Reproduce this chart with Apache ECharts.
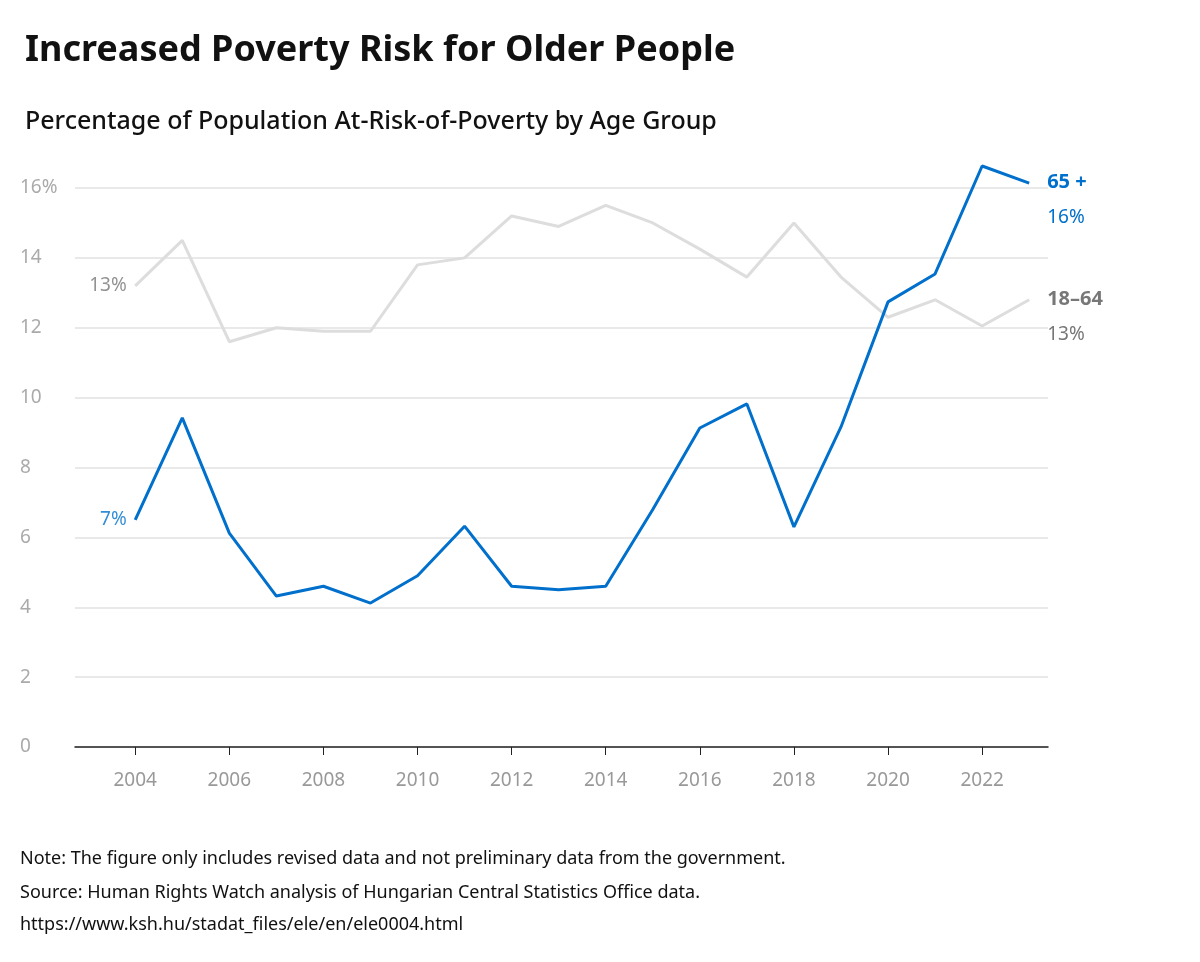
<!DOCTYPE html><html><head><meta charset="utf-8"><script src="https://cdn.jsdelivr.net/npm/echarts@6/dist/echarts.min.js"></script>
<style>body{margin:0}#c{width:1200px;height:962px}</style></head><body><div id="c"></div><script>
const years=[2004,2005,2006,2007,2008,2009,2010,2011,2012,2013,2014,2015,2016,2017,2018,2019,2020,2021,2022,2023];
const older=[6.5,9.42,6.12,4.32,4.6,4.12,4.9,6.32,4.6,4.5,4.6,6.8,9.13,9.82,6.3,9.16,12.74,13.54,16.63,16.14];
const working=[13.2,14.5,11.6,12.0,11.9,11.9,13.8,14.0,15.2,14.9,15.5,15.0,14.25,13.45,15.0,13.45,12.3,12.8,12.05,12.8];
const xTicks=[2004,2006,2008,2010,2012,2014,2016,2018,2020,2022];
const F='Noto Sans';
const blue='#0070cc',grey='#dddddd';
function mk(vals,name,color,lblColor){
 return {type:'line',name,data:vals.map((v,i)=>[years[i],v]),
  symbol:'none',clip:false,lineStyle:{color,width:3},
  endLabel:{show:true,distance:18,color:lblColor,fontFamily:F,formatter:()=>'{a|'+name+'}\n{b|'+Math.round(vals[vals.length-1])+'%}',
   rich:{a:{fontSize:20,fontWeight:'bold',color:lblColor,fontFamily:F,lineHeight:35},b:{fontSize:19,color:lblColor,fontFamily:F,lineHeight:35}},offset:[0,17]}};
}
function start(vals,lblColor){
 return {type:'scatter',data:[[years[0],vals[0]]],symbolSize:1,itemStyle:{color:'transparent'},silent:true,
  label:{show:true,position:'left',distance:8,formatter:Math.round(vals[0])+'%',color:lblColor,fontFamily:F,fontSize:19}};
}
const c=echarts.init(document.getElementById('c'));
c.setOption({animation:false,backgroundColor:'#fff',
title:[{text:'Increased Poverty Risk for Older People',left:20,top:28,textStyle:{fontFamily:F,fontSize:36,fontWeight:'bold',color:'#111'}},
 {text:'Percentage of Population At-Risk-of-Poverty by Age Group',left:20,top:104,textStyle:{fontFamily:F,fontSize:25,fontWeight:500,color:'#111'}}],
graphic:[{type:'text',left:20,top:850,style:{text:'Note: The figure only includes revised data and not preliminary data from the government.',font:'18px "Noto Sans"',fill:'#111'}},
 {type:'text',left:20,top:884,style:{text:'Source: Human Rights Watch analysis of Hungarian Central Statistics Office data.',font:'18px "Noto Sans"',fill:'#111'}},
 {type:'text',left:20,top:916,style:{text:'https://www.ksh.hu/stadat_files/ele/en/ele0004.html',font:'18px "Noto Sans"',fill:'#111'}}],
grid:{left:75,right:152,top:188,bottom:215},
xAxis:{type:'value',min:2002.72,max:2023.4,interval:2,axisLine:{lineStyle:{color:'#222',width:1.5}},
 axisTick:{show:true,length:8,lineStyle:{color:'#222'},customValues:xTicks},
 axisLabel:{customValues:xTicks,margin:24,color:'#999',fontFamily:F,fontSize:19,formatter:v=>String(v)},splitLine:{show:false}},
yAxis:{type:'value',min:0,max:16,interval:2,axisLabel:{color:'#aaa',fontFamily:F,fontSize:19,align:'left',margin:55,formatter:v=>v===16?'16%':String(v)},
 splitLine:{lineStyle:{color:'#e2e2e2',width:1.5}},axisLine:{show:false},axisTick:{show:false}},
series:[mk(working,'18–64',grey,'#777'),mk(older,'65 +',blue,blue),start(working,'#777'),start(older,blue)]});
</script></body></html>
